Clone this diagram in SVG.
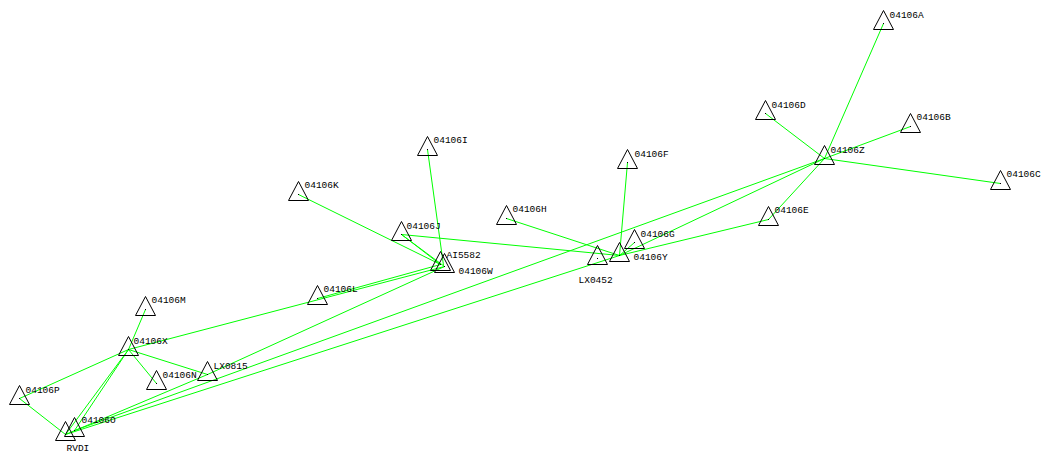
<svg xmlns="http://www.w3.org/2000/svg" width="1041" height="453" viewBox="0 0 1041 453">
<style>
.e{stroke:#00ff00;stroke-width:1;fill:none}
.t{fill:none;stroke:#000;stroke-width:1}
.d{fill:#000}
text{font-family:"Liberation Mono","DejaVu Sans Mono",monospace;font-size:9.5px;fill:#000}
</style>
<defs>
<g id="tri"><path class="t" d="M0,-13 L10,6 L-10,6 Z"/><rect class="d" x="-0.5" y="-0.5" width="1" height="1"/></g>
</defs>
<rect width="1041" height="453" fill="#fff"/>
<g transform="translate(0.5,0.5)">
<g id="connectors">
<line class="e" x1="883" y1="23" x2="824" y2="158"/>
<line class="e" x1="765" y1="113" x2="824" y2="158"/>
<line class="e" x1="910" y1="126" x2="824" y2="158"/>
<line class="e" x1="1000" y1="183" x2="824" y2="158"/>
<line class="e" x1="768" y1="219" x2="824" y2="158"/>
<line class="e" x1="619" y1="255" x2="824" y2="158"/>
<line class="e" x1="619" y1="255" x2="768" y2="219"/>
<line class="e" x1="619" y1="255" x2="634" y2="242"/>
<line class="e" x1="619" y1="255" x2="627" y2="162"/>
<line class="e" x1="619" y1="255" x2="506" y2="218"/>
<line class="e" x1="619" y1="255" x2="401" y2="234"/>
<line class="e" x1="427" y1="149" x2="443" y2="265"/>
<line class="e" x1="298" y1="194" x2="440" y2="264"/>
<line class="e" x1="401" y1="234" x2="440" y2="264"/>
<line class="e" x1="401" y1="234" x2="444" y2="266"/>
<line class="e" x1="128" y1="349" x2="444" y2="266"/>
<line class="e" x1="317" y1="298" x2="440" y2="264"/>
<line class="e" x1="207" y1="374" x2="444" y2="266"/>
<line class="e" x1="65" y1="434" x2="207" y2="374"/>
<line class="e" x1="128" y1="349" x2="207" y2="374"/>
<line class="e" x1="128" y1="349" x2="156" y2="383"/>
<line class="e" x1="145" y1="309" x2="128" y2="349"/>
<line class="e" x1="128" y1="349" x2="65" y2="434"/>
<line class="e" x1="128" y1="349" x2="74" y2="430"/>
<line class="e" x1="19" y1="398" x2="128" y2="349"/>
<line class="e" x1="19" y1="398" x2="65" y2="434"/>
<line class="e" x1="74" y1="430" x2="824" y2="158"/>
<line class="e" x1="65" y1="434" x2="619" y2="255"/>
</g>
<g id="n04106A"><use href="#tri" x="883" y="23"/><text x="889" y="17">04106A</text></g>
<g id="n04106D"><use href="#tri" x="765" y="113"/><text x="771" y="107">04106D</text></g>
<g id="n04106B"><use href="#tri" x="910" y="126"/><text x="916" y="119.5">04106B</text></g>
<g id="n04106Z"><use href="#tri" x="824" y="158"/><text x="830" y="152">04106Z</text></g>
<g id="n04106C"><use href="#tri" x="1000" y="183"/><text x="1006" y="176.5">04106C</text></g>
<g id="n04106E"><use href="#tri" x="768" y="219"/><text x="774" y="212.5">04106E</text></g>
<g id="n04106I"><use href="#tri" x="427" y="149"/><text x="433" y="142.5">04106I</text></g>
<g id="n04106K"><use href="#tri" x="298" y="194"/><text x="304" y="187.5">04106K</text></g>
<g id="n04106J"><use href="#tri" x="401" y="234"/><text x="406" y="228">04106J</text></g>
<g id="nAI5582"><use href="#tri" x="440" y="264"/><text x="446" y="257">AI5582</text></g>
<g id="n04106W"><use href="#tri" x="444" y="266"/><text x="458" y="273.5">04106W</text></g>
<g id="n04106H"><use href="#tri" x="506" y="218"/><text x="512" y="211.5">04106H</text></g>
<g id="n04106F"><use href="#tri" x="627" y="162"/><text x="634" y="156">04106F</text></g>
<g id="n04106G"><use href="#tri" x="634" y="242"/><text x="640" y="236">04106G</text></g>
<g id="n04106Y"><use href="#tri" x="619" y="255"/><text x="633" y="259.5">04106Y</text></g>
<g id="nLX0452"><use href="#tri" x="597" y="258"/><text x="578" y="282">LX0452</text></g>
<g id="n04106L"><use href="#tri" x="317" y="298"/><text x="323" y="291.5">04106L</text></g>
<g id="n04106M"><use href="#tri" x="145" y="309"/><text x="151" y="302">04106M</text></g>
<g id="n04106X"><use href="#tri" x="128" y="349"/><text x="133" y="343.5">04106X</text></g>
<g id="n04106N"><use href="#tri" x="156" y="383"/><text x="162" y="377.5">04106N</text></g>
<g id="nLX0815"><use href="#tri" x="207" y="374"/><text x="213" y="368">LX0815</text></g>
<g id="n04106P"><use href="#tri" x="19" y="398"/><text x="25" y="392">04106P</text></g>
<g id="n04106O"><use href="#tri" x="74" y="430"/><text x="81" y="422.5">04106O</text></g>
<g id="nRVDI"><use href="#tri" x="65" y="434"/><text x="66" y="450">RVDI</text></g>
</g>
</svg>
